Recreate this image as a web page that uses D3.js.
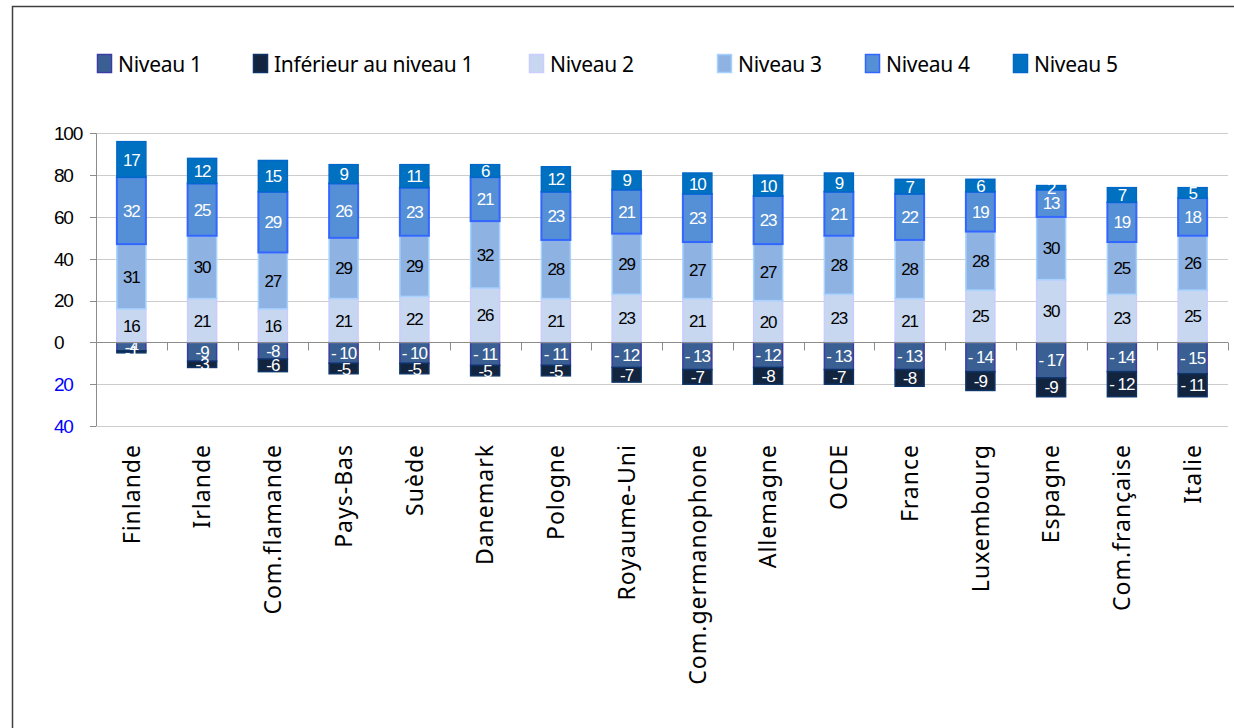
<!DOCTYPE html>
<html>
<head>
<meta charset="utf-8">
<script src="https://cdn.jsdelivr.net/npm/d3@7"></script>
<style>
  body { margin: 0; background: #fff; }
  svg { display: block; }
</style>
</head>
<body>
<div id="chart"></div>
<script>
// categories and values
var pays = ['Finlande', 'Irlande', 'Com.flamande', 'Pays-Bas', 'Suède', 'Danemark', 'Pologne',
    'Royaume-Uni', 'Com.germanophone', 'Allemagne', 'OCDE', 'France', 'Luxembourg', 'Espagne',
    'Com.française', 'Italie'];
var niveau1 = [-4, -9, -8, -10, -10, -11, -11, -12, -13, -12, -13, -13, -14, -17, -14, -15];
var inferieur = [-1, -3, -6, -5, -5, -5, -5, -7, -7, -8, -7, -8, -9, -9, -12, -11];
var niveau2 = [16, 21, 16, 21, 22, 26, 21, 23, 21, 20, 23, 21, 25, 30, 23, 25];
var niveau3 = [31, 30, 27, 29, 29, 32, 28, 29, 27, 27, 28, 28, 28, 30, 25, 26];
var niveau4 = [32, 25, 29, 26, 23, 21, 23, 21, 23, 23, 21, 22, 19, 13, 19, 18];
var niveau5 = [17, 12, 15, 9, 11, 6, 12, 9, 10, 10, 9, 7, 6, 2, 7, 5];
var yTicks = [-40, -20, 0, 20, 40, 60, 80, 100];

var series = [
    { key: 'Niveau 1', values: niveau1, fill: '#3a6093', stroke: '#3c3ca6', text: '#fff' },
    { key: 'Inférieur au niveau 1', values: inferieur, fill: '#13243f', stroke: '#0d3466', text: '#fff' },
    { key: 'Niveau 2', values: niveau2, fill: '#c7d7f0', stroke: '#ccccff', text: '#000' },
    { key: 'Niveau 3', values: niveau3, fill: '#8eb2e2', stroke: '#a6d2ff', text: '#000' },
    { key: 'Niveau 4', values: niveau4, fill: '#558fd6', stroke: '#3366ff', text: '#fff' },
    { key: 'Niveau 5', values: niveau5, fill: '#0070c0', stroke: '#0068c8', text: '#fff' }
];

var width = 1234;
var height = 728;

var svg = d3.select('#chart')
    .append('svg')
    .attr('width', width)
    .attr('height', height);

// outer frame (runs off the right and bottom of the picture)
svg.append('rect')
    .attr('x', 12.5)
    .attr('y', 6.5)
    .attr('width', 1240)
    .attr('height', 740)
    .attr('fill', 'none')
    .attr('stroke', '#404040')
    .attr('stroke-width', 1.5);

var x = d3.scaleBand()
    .domain(pays)
    .range([96, 1228])
    .paddingInner(0)
    .paddingOuter(0);

var y = d3.scaleLinear()
    .domain([-40, 100])
    .range([426, 133.3]);

var barWidth = 29;

// gridlines
svg.append('g')
    .selectAll('line')
    .data(yTicks.filter(function(d) { return d !== 0; }))
    .enter()
    .append('line')
    .attr('x1', 96)
    .attr('x2', 1228)
    .attr('y1', function(d) { return Math.round(y(d)) + 0.5; })
    .attr('y2', function(d) { return Math.round(y(d)) + 0.5; })
    .attr('stroke', '#cccccc')
    .attr('stroke-width', 1.2);

// y axis line and ticks
var y0 = Math.round(y(0)) + 0.5;
svg.append('line')
    .attr('x1', 96.5).attr('x2', 96.5)
    .attr('y1', y(100)).attr('y2', y(-40))
    .attr('stroke', '#8c8c8c');

svg.append('g')
    .selectAll('line')
    .data(yTicks)
    .enter()
    .append('line')
    .attr('x1', 90).attr('x2', 96)
    .attr('y1', function(d) { return Math.round(y(d)) + 0.5; })
    .attr('y2', function(d) { return Math.round(y(d)) + 0.5; })
    .attr('stroke', '#8c8c8c');

svg.append('g')
    .selectAll('text')
    .data(yTicks)
    .enter()
    .append('text')
    .attr('x', 54)
    .attr('y', function(d) { return y(d); })
    .attr('dy', '0.36em')
    .style('font-family', '"Liberation Sans", Arial, sans-serif')
    .style('font-size', '19px')
    .style('letter-spacing', '-1.2px')
    .attr('fill', function(d) { return d < 0 ? '#0000ff' : '#000'; })
    .text(function(d) { return Math.abs(d); });

// stacked bars
var table = pays.map(function(p, i) {
    var row = { pays: p };
    series.forEach(function(s) { row[s.key] = s.values[i]; });
    return row;
});

var stack = d3.stack()
    .keys(series.map(function(s) { return s.key; }))
    .offset(d3.stackOffsetDiverging);

var layers = stack(table);

var groups = svg.selectAll('g.layer')
    .data(layers)
    .enter()
    .append('g')
    .attr('class', 'layer');

groups.selectAll('rect')
    .data(function(d, i) { return d.map(function(v) { return { v: v, s: series[i] }; }); })
    .enter()
    .append('rect')
    .attr('x', function(d) { return x(d.v.data.pays) + x.bandwidth() / 2 - barWidth / 2; })
    .attr('y', function(d) { return y(Math.max(d.v[0], d.v[1])); })
    .attr('width', barWidth)
    .attr('height', function(d) { return Math.abs(y(d.v[0]) - y(d.v[1])); })
    .attr('fill', function(d) { return d.s.fill; })
    .attr('stroke', function(d) { return d.s.stroke; })
    .attr('stroke-width', function(d) { return d.s.key === 'Niveau 4' ? 2 : 1.5; });

// zero line with category ticks
svg.append('line')
    .attr('x1', 96).attr('x2', 1228)
    .attr('y1', y0).attr('y2', y0)
    .attr('stroke', '#8c8c8c')
    .attr('stroke-width', 1.2);

svg.append('g')
    .selectAll('line')
    .data(pays.concat(['end']))
    .enter()
    .append('line')
    .attr('x1', function(d, i) { return Math.round(96 + i * x.bandwidth()) + 0.5; })
    .attr('x2', function(d, i) { return Math.round(96 + i * x.bandwidth()) + 0.5; })
    .attr('y1', y0).attr('y2', y0 + 8)
    .attr('stroke', '#8c8c8c');

// value labels
function fmt(v) {
    if (v < 0) return '-' + (Math.abs(v) >= 10 ? ' ' : '') + Math.abs(v);
    return '' + v;
}

groups.selectAll('text')
    .data(function(d, i) { return d.map(function(v) { return { v: v, s: series[i] }; }); })
    .enter()
    .append('text')
    .attr('x', function(d) { return x(d.v.data.pays) + x.bandwidth() / 2; })
    .attr('y', function(d) { return y((d.v[0] + d.v[1]) / 2); })
    .attr('dy', '0.36em')
    .attr('text-anchor', 'middle')
    .style('font-family', '"Liberation Sans", Arial, sans-serif')
    .style('font-size', '17px')
    .style('letter-spacing', '-1px')
    .attr('fill', function(d) { return d.s.text; })
    .text(function(d) { return fmt(d.v.data[d.s.key]); });

// category labels, rotated
svg.append('g')
    .selectAll('text')
    .data(pays)
    .enter()
    .append('text')
    .attr('transform', function(d) {
        return 'translate(' + (x(d) + x.bandwidth() / 2) + ',444)rotate(-90)';
    })
    .attr('text-anchor', 'end')
    .attr('dy', '0.36em')
    .style('font-family', '"Noto Sans", "Open Sans", sans-serif')
    .style('font-size', '23px')
    .style('letter-spacing', '1px')
    .attr('fill', '#000')
    .text(function(d) { return d; });

// legend
var legendX = [97, 253, 529, 717, 865, 1013];

var legend = svg.selectAll('.legend')
    .data(series)
    .enter()
    .append('g')
    .attr('class', 'legend')
    .attr('transform', function(d, i) { return 'translate(' + legendX[i] + ',54)'; });

legend.append('rect')
    .attr('x', 0.5)
    .attr('y', 0.5)
    .attr('width', 14)
    .attr('height', 18)
    .attr('fill', function(d) { return d.fill; })
    .attr('stroke', function(d) { return d.stroke; })
    .attr('stroke-width', 1.5);

legend.append('text')
    .attr('x', 21)
    .attr('y', 18)
    .style('font-family', '"Noto Sans", "Open Sans", sans-serif')
    .style('font-size', '21px')
    .style('letter-spacing', '-0.3px')
    .attr('fill', '#000')
    .text(function(d) { return d.key; });
</script>
</body>
</html>
